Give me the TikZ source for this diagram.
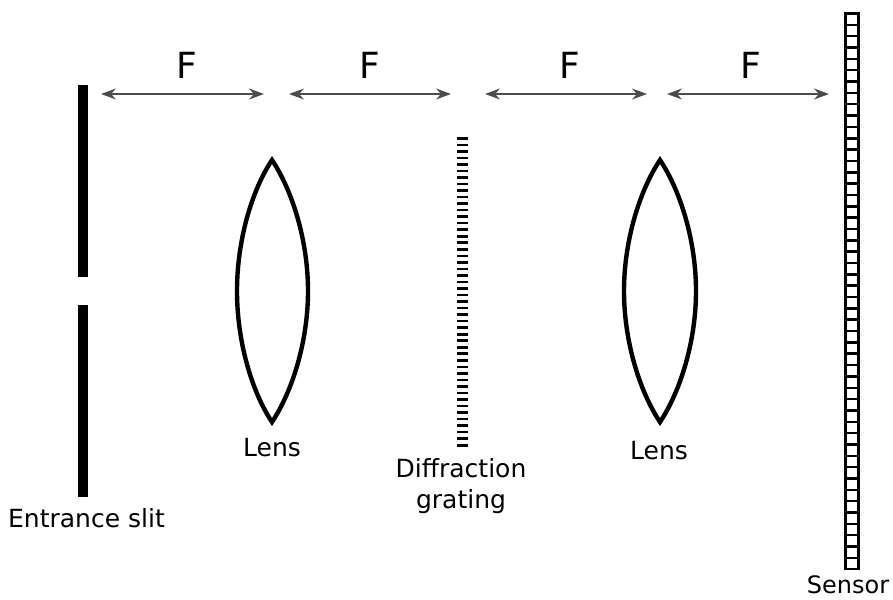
\documentclass[tikz,border=0pt]{standalone}
\usepackage{fontspec}
\setmainfont{DejaVu Sans}
\usetikzlibrary{arrows.meta, fit}

\begin{document}
\begin{tikzpicture}[x=1pt,y=-1pt,
        slitbar/.style={fill=black,inner sep=0pt,minimum width=10pt},
        lensline/.style={draw=black,line width=4.4pt,line join=miter},
        span/.style={draw=black!70,line width=1.2pt,{Stealth[length=15pt,width=11pt,inset=5pt]}-{Stealth[length=15pt,width=11pt,inset=5pt]}},
        flabel/.style={font=\fontsize{36}{36}\selectfont,inner sep=0pt},
        caption/.style={font=\fontsize{25}{31}\selectfont,inner sep=0pt,align=center}]
            \useasboundingbox (0,0) rectangle (893,599);
            \node[slitbar,minimum height=192pt] (slit-top) at (83,181) {};
            \node[slitbar,minimum height=192pt] (slit-bot) at (83,401) {};
            \node[caption] (slit-label) at (86.5,518) {Entrance slit};

            \coordinate (lens1-top) at (272,160);
            \coordinate (lens1-bot) at (272,422);
            \draw[lensline] (lens1-top) .. controls (252,190) and (237,240) .. (237,291)
                .. controls (237,342) and (252,392) .. (lens1-bot)
                .. controls (292,392) and (308,342) .. (308,291)
                .. controls (308,240) and (292,190) .. (lens1-top) -- cycle;
            \node[caption] (lens1-label) at (272,448) {Lens};

            \foreach \i in {0,...,47}
                \node[fill=black,inner sep=0pt,minimum width=11pt,minimum height=2.6pt] (grating-\i) at (462.5,138.3+6.53*\i) {};
            \node[caption] (grating-label) at (461,486) {Diffraction\\grating};

            \coordinate (lens2-top) at (660,160);
            \coordinate (lens2-bot) at (660,422);
            \draw[lensline] (lens2-top) .. controls (640,190) and (624,240) .. (624,291)
                .. controls (624,342) and (640,392) .. (lens2-bot)
                .. controls (680,392) and (696,342) .. (696,291)
                .. controls (696,240) and (680,190) .. (lens2-top) -- cycle;
            \node[caption] (lens2-label) at (659,451) {Lens};

            \foreach \i in {0,...,48}
                \node[draw=black,line width=2.5pt,inner sep=0pt,minimum width=13pt,minimum height=11.34pt] (sensor-\i) at (851.8,19.2+11.34*\i) {};
            \node[font=\fontsize{24}{30}\selectfont,inner sep=0pt] (sensor-label) at (848,585) {Sensor};

            \coordinate (a1) at (101,94);
            \coordinate (b1) at (264,94);
            \coordinate (a2) at (289,94);
            \coordinate (b2) at (451,94);
            \coordinate (a3) at (485,94);
            \coordinate (b3) at (647,94);
            \coordinate (a4) at (667,94);
            \coordinate (b4) at (829,94);
            \foreach \i/\x in {1/187,2/370,3/570,4/751} {
                \draw[span] (a\i) -- (b\i);
                \node[flabel] (f\i) at (\x,65) {F};
            }
        \end{tikzpicture}
\end{document}
